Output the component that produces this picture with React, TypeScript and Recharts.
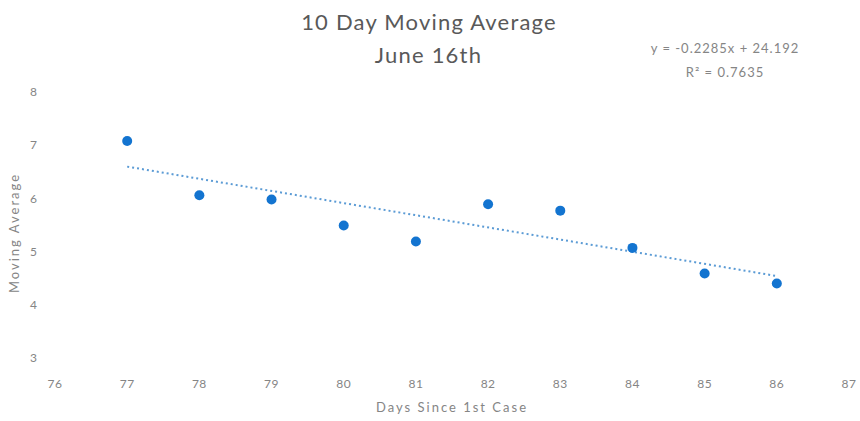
import React from 'react';
import { ScatterChart, Scatter, XAxis, YAxis, Label } from 'recharts';

const days = [77, 78, 79, 80, 81, 82, 83, 84, 85, 86];
const movingAvg = [7.08, 6.06, 5.98, 5.49, 5.19, 5.89, 5.77, 5.07, 4.59, 4.4];
const xTicks = [76, 77, 78, 79, 80, 81, 82, 83, 84, 85, 86, 87];
const yTicks = [3, 4, 5, 6, 7, 8];
const slope = -0.2285;
const intercept = 24.192;
const trendDays = [77, 86];
const titleLines = ['10 Day Moving Average', 'June 16th'];
const equationText = 'y = -0.2285x + 24.192';
const rSquaredText = 'R² = 0.7635';

const points = days.map((d, i) => ({ x: d, y: movingAvg[i] }));
const trend = trendDays.map((d) => ({ x: d, y: slope * d + intercept }));

const FONT = 'Lato, "Open Sans", sans-serif';
const GRAY = '#858585';

export default function App() {
  return (
    <div style={{ position: 'absolute', left: 0, top: 0, width: 860, height: 421, background: '#fff', fontFamily: FONT }}>
      <ScatterChart width={860} height={421} margin={{ top: 92, right: 11, bottom: 33, left: 15 }}>
        <XAxis
          type="number"
          dataKey="x"
          domain={[76, 87]}
          ticks={xTicks}
          axisLine={false}
          tickLine={false}
          tickMargin={15}
          height={30}
          tick={{ fill: GRAY, fontSize: 12, fontFamily: FONT, letterSpacing: 0.5 }}
        >
          <Label value="Days Since 1st Case" position="bottom" offset={15} fill={GRAY} fontSize={13} fontFamily={FONT} letterSpacing={2} />
        </XAxis>
        <YAxis
          type="number"
          dataKey="y"
          domain={[3, 8]}
          ticks={yTicks}
          axisLine={false}
          tickLine={false}
          tickMargin={12}
          width={40}
          tick={{ fill: GRAY, fontSize: 12, fontFamily: FONT }}
        >
          <Label
            content={() => (
              <text x={16} y={233} transform="rotate(-90 16 233)" textAnchor="middle" dominantBaseline="middle" fill={GRAY} fontSize={13} fontFamily={FONT} letterSpacing={2}>
                Moving Average
              </text>
            )}
          />
        </YAxis>
        <Scatter
          data={trend}
          line={{ stroke: '#5b9bd5', strokeWidth: 2, strokeDasharray: '2 3' }}
          shape={() => null}
          isAnimationActive={false}
        />
        <Scatter
          data={points}
          fill="#1374d0"
          shape={(p: any) => <circle cx={p.cx} cy={p.cy} r={5} fill="#1374d0" />}
          isAnimationActive={false}
        />
      </ScatterChart>
      <div style={{ position: 'absolute', left: 0, width: 860, top: 5, textAlign: 'center', color: '#595959', fontSize: 22, letterSpacing: 1.2, lineHeight: '33px' }}>
        <div style={{ marginLeft: -2 }}>{titleLines[0]}</div>
        <div style={{ marginLeft: -3 }}>{titleLines[1]}</div>
      </div>
      <div style={{ position: 'absolute', left: 625, width: 200, top: 36, textAlign: 'center', color: GRAY, fontSize: 13, letterSpacing: 1, lineHeight: '24px' }}>
        <div>{equationText}</div>
        <div>{rSquaredText}</div>
      </div>
    </div>
  );
}
